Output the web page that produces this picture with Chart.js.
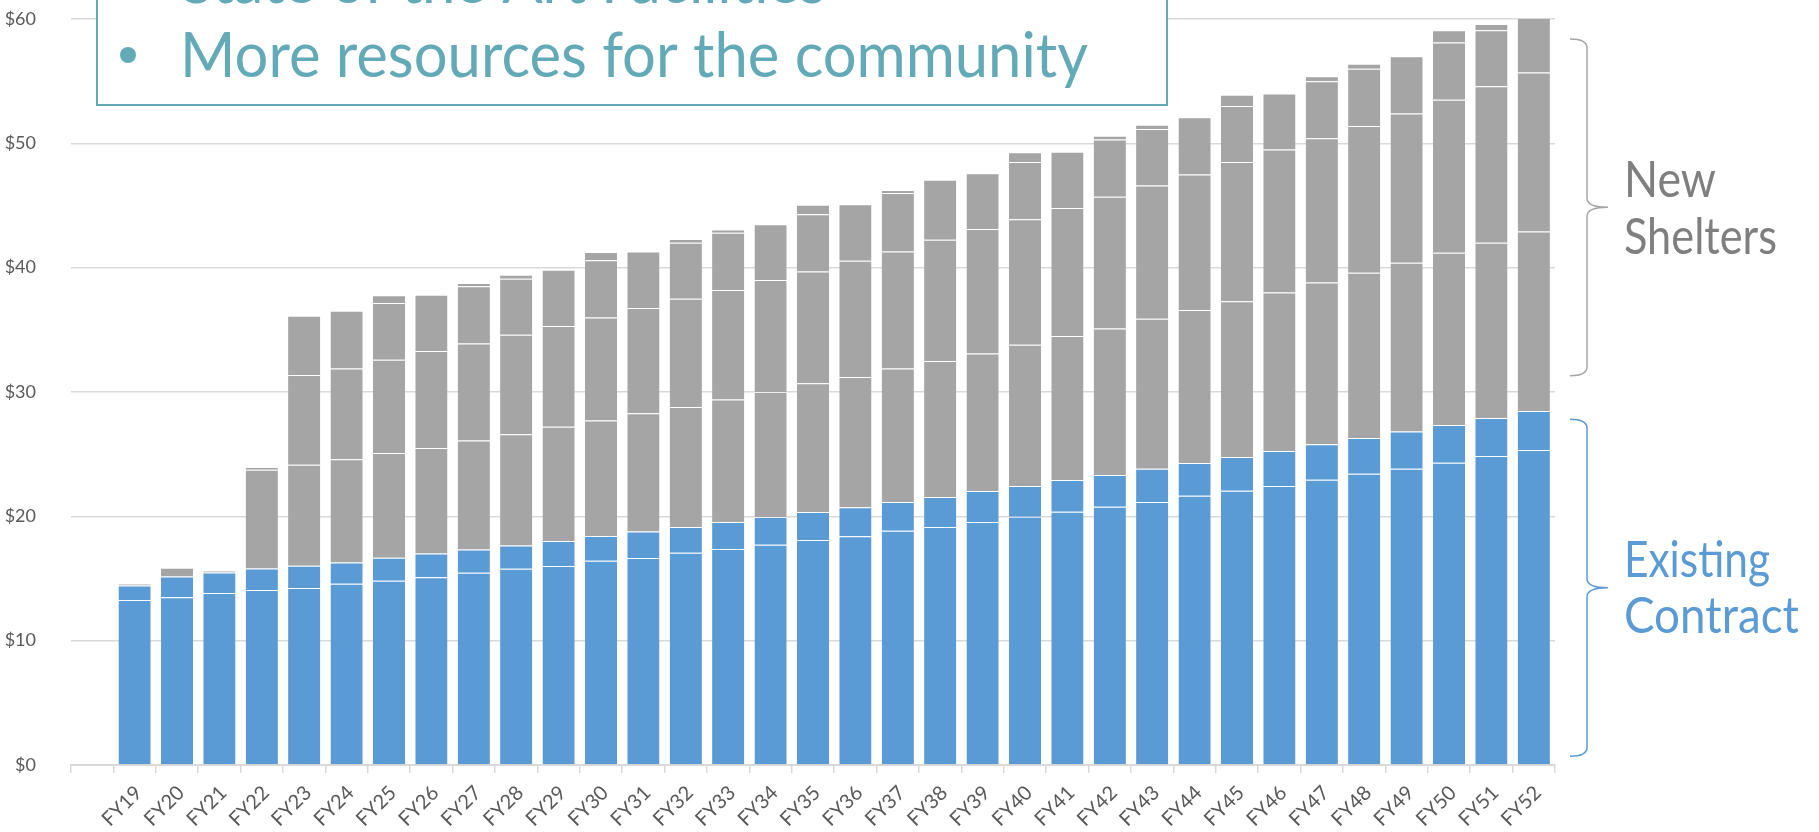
<!DOCTYPE html>
<html>
<head>
<meta charset="utf-8">
<title>Existing contract vs new shelters</title>
<script src="https://cdn.jsdelivr.net/npm/chart.js@4"></script>
<style>
  html, body { margin: 0; padding: 0; background: #fff; }
  #chart { display: block; }
</style>
</head>
<body>
<canvas id="chart" width="1819" height="832"></canvas>
<script>
// fiscal years on the x axis
const years = ['FY19', 'FY20', 'FY21', 'FY22', 'FY23', 'FY24', 'FY25', 'FY26', 'FY27', 'FY28',
               'FY29', 'FY30', 'FY31', 'FY32', 'FY33', 'FY34', 'FY35', 'FY36', 'FY37', 'FY38',
               'FY39', 'FY40', 'FY41', 'FY42', 'FY43', 'FY44', 'FY45', 'FY46', 'FY47', 'FY48',
               'FY49', 'FY50', 'FY51', 'FY52'];

// existing contract (blue), two stacked pieces
const existingBase = [13.27, 13.50, 13.83, 14.07, 14.23, 14.58, 14.82, 15.10, 15.46, 15.78,
                      16.00, 16.43, 16.64, 17.07, 17.37, 17.71, 18.09, 18.40, 18.84, 19.14,
                      19.54, 19.97, 20.37, 20.77, 21.15, 21.66, 22.06, 22.44, 22.94, 23.43,
                      23.83, 24.31, 24.85, 25.33];
const existingGrowth = [1.17, 1.67, 1.66, 1.74, 1.80, 1.71, 1.85, 1.92, 1.88, 1.88,
                        2.01, 1.98, 2.15, 2.07, 2.17, 2.23, 2.25, 2.33, 2.31, 2.41,
                        2.49, 2.47, 2.55, 2.55, 2.68, 2.62, 2.71, 2.81, 2.85, 2.87,
                        3.00, 3.03, 3.05, 3.14];

// new shelters (gray), stacked pieces
const shelterA = [0, 0, 0, 7.94, 8.12, 8.31, 8.43, 8.48, 8.76, 8.94,
                  9.19, 9.29, 9.51, 9.66, 9.86, 10.06, 10.36, 10.47, 10.75, 10.95,
                  11.07, 11.36, 11.58, 11.78, 12.07, 12.32, 12.53, 12.75, 13.01, 13.30,
                  13.57, 13.86, 14.10, 14.43];
const shelterB = [0, 0, 0, 0, 7.21, 7.30, 7.50, 7.80, 7.80, 8.00,
                  8.10, 8.30, 8.45, 8.70, 8.80, 9.00, 9.00, 9.36, 9.40, 9.75,
                  10.00, 10.10, 10.30, 10.60, 10.70, 10.90, 11.20, 11.50, 11.60, 11.80,
                  12.00, 12.30, 12.60, 12.80];
const shelterC = [0, 0, 0, 0, 4.78, 4.64, 4.55, 4.53, 4.60, 4.50,
                  4.54, 4.60, 4.55, 4.50, 4.60, 4.50, 4.60, 4.54, 4.70, 4.83,
                  4.50, 4.60, 4.53, 4.60, 4.55, 4.60, 4.50, 4.50, 4.60, 4.60,
                  4.60, 4.60, 4.50, 4.70];
const shelterTop = [0.14, 0.69, 0.13, 0.21, 0, 0, 0.63, 0, 0.27, 0.34,
                    0, 0.66, 0, 0.30, 0.26, 0, 0.77, 0, 0.25, 0,
                    0, 0.78, 0, 0.30, 0.35, 0, 0.90, 0, 0.40, 0.40,
                    0, 1.00, 0.50, 0];

const yMax = 60;
const yStep = 10;

// value ranges covered by the two braces on the right
const shelterBrace = [58.4, 31.3];
const contractBrace = [27.8, 0.7];

const BLUE = '#5b9bd5';
const GRAY = '#a5a5a5';
const TEAL = '#62aab7';

// the original axis has one empty slot before FY19
const labels = [''].concat(years);
function pad(arr) { return [null].concat(arr); }

function piece(label, data, color) {
    return {
        label: label,
        data: pad(data),
        backgroundColor: color,
        borderColor: 'rgba(255,255,255,0.15)',
        borderWidth: {top: 1, left: 0, right: 0, bottom: 0},
        barPercentage: 0.76,
        categoryPercentage: 1.0
    };
}

function fitText(ctx, text, x, y, width) {
    let w = ctx.measureText(text).width;
    ctx.save();
    ctx.translate(x, y);
    ctx.scale(width / w, 1);
    ctx.fillText(text, 0, 0);
    ctx.restore();
}

function drawBrace(ctx, x0, xs, xt, top, bottom, color) {
    let mid = (top + bottom) / 2;
    let r = 9;
    ctx.save();
    ctx.strokeStyle = color;
    ctx.lineWidth = 1.5;
    ctx.beginPath();
    ctx.moveTo(x0, top);
    ctx.quadraticCurveTo(xs, top, xs, top + r);
    ctx.lineTo(xs, mid - r);
    ctx.quadraticCurveTo(xs, mid, xt, mid);
    ctx.moveTo(xt, mid);
    ctx.quadraticCurveTo(xs, mid, xs, mid + r);
    ctx.lineTo(xs, bottom - r);
    ctx.quadraticCurveTo(xs, bottom, x0, bottom);
    ctx.stroke();
    ctx.restore();
}

const overlay = {
    id: 'overlay',
    afterDraw(chart) {
        let ctx = chart.ctx;
        let y = chart.scales.y;

        // slide text box in the top left
        ctx.save();
        ctx.fillStyle = '#ffffff';
        ctx.fillRect(97, -10, 1070, 115);
        ctx.strokeStyle = TEAL;
        ctx.lineWidth = 2;
        ctx.strokeRect(97, -10, 1070, 115);
        ctx.fillStyle = TEAL;
        ctx.textBaseline = 'alphabetic';
        ctx.font = '62px Lato';
        fitText(ctx, 'State of the Art Facilities', 181, 3, 645);
        fitText(ctx, 'More resources for the community', 180, 77, 908);
        ctx.beginPath();
        ctx.arc(128, 55, 8, 0, Math.PI * 2);
        ctx.fill();
        ctx.restore();

        // braces and labels on the right
        drawBrace(ctx, 1570, 1587, 1608,
            y.getPixelForValue(shelterBrace[0]), y.getPixelForValue(shelterBrace[1]), '#a6a6a6');
        drawBrace(ctx, 1570, 1587, 1608,
            y.getPixelForValue(contractBrace[0]), y.getPixelForValue(contractBrace[1]), BLUE);

        ctx.save();
        ctx.font = '50px Lato';
        ctx.fillStyle = '#7f7f7f';
        fitText(ctx, 'New', 1624, 197, 92);
        fitText(ctx, 'Shelters', 1624, 254, 153);
        ctx.fillStyle = BLUE;
        fitText(ctx, 'Existing', 1624, 577, 146);
        fitText(ctx, 'Contract', 1624, 633, 175);
        ctx.restore();
    }
};

new Chart(document.getElementById('chart').getContext('2d'), {
    type: 'bar',
    data: {
        labels: labels,
        datasets: [
            piece('Existing contract', existingBase, BLUE),
            piece('Existing contract growth', existingGrowth, BLUE),
            piece('Shelter A', shelterA, GRAY),
            piece('Shelter B', shelterB, GRAY),
            piece('Shelter C', shelterC, GRAY),
            piece('Shelter extra', shelterTop, GRAY)
        ]
    },
    options: {
        responsive: false,
        animation: false,
        devicePixelRatio: 1,
        layout: {padding: {top: 19, right: 264, bottom: 0, left: 0}},
        plugins: {
            legend: {display: false},
            tooltip: {enabled: false}
        },
        scales: {
            x: {
                stacked: true,
                grid: {
                    display: true,
                    drawOnChartArea: false,
                    drawTicks: true,
                    tickLength: 8,
                    color: '#d9d9d9',
                    lineWidth: 1.5
                },
                border: {display: true, color: '#d9d9d9', width: 2},
                ticks: {
                    autoSkip: false,
                    maxRotation: 45,
                    minRotation: 45,
                    padding: 8,
                    labelOffset: 4,
                    color: '#595959',
                    font: {family: 'Lato', size: 20}
                },
                afterFit(scale) { scale.height = 67; }
            },
            y: {
                stacked: true,
                min: 0,
                max: yMax,
                grid: {
                    color: '#d9d9d9',
                    lineWidth: 1.5,
                    drawTicks: true,
                    tickLength: 35,
                    tickColor: 'rgba(0,0,0,0)'
                },
                border: {display: false},
                ticks: {
                    stepSize: yStep,
                    padding: 0,
                    color: '#595959',
                    font: {family: 'Lato', size: 18},
                    callback: function (v) { return '$' + v; }
                },
                afterFit(scale) { scale.width = 71; }
            }
        }
    },
    plugins: [overlay]
});
</script>
</body>
</html>
